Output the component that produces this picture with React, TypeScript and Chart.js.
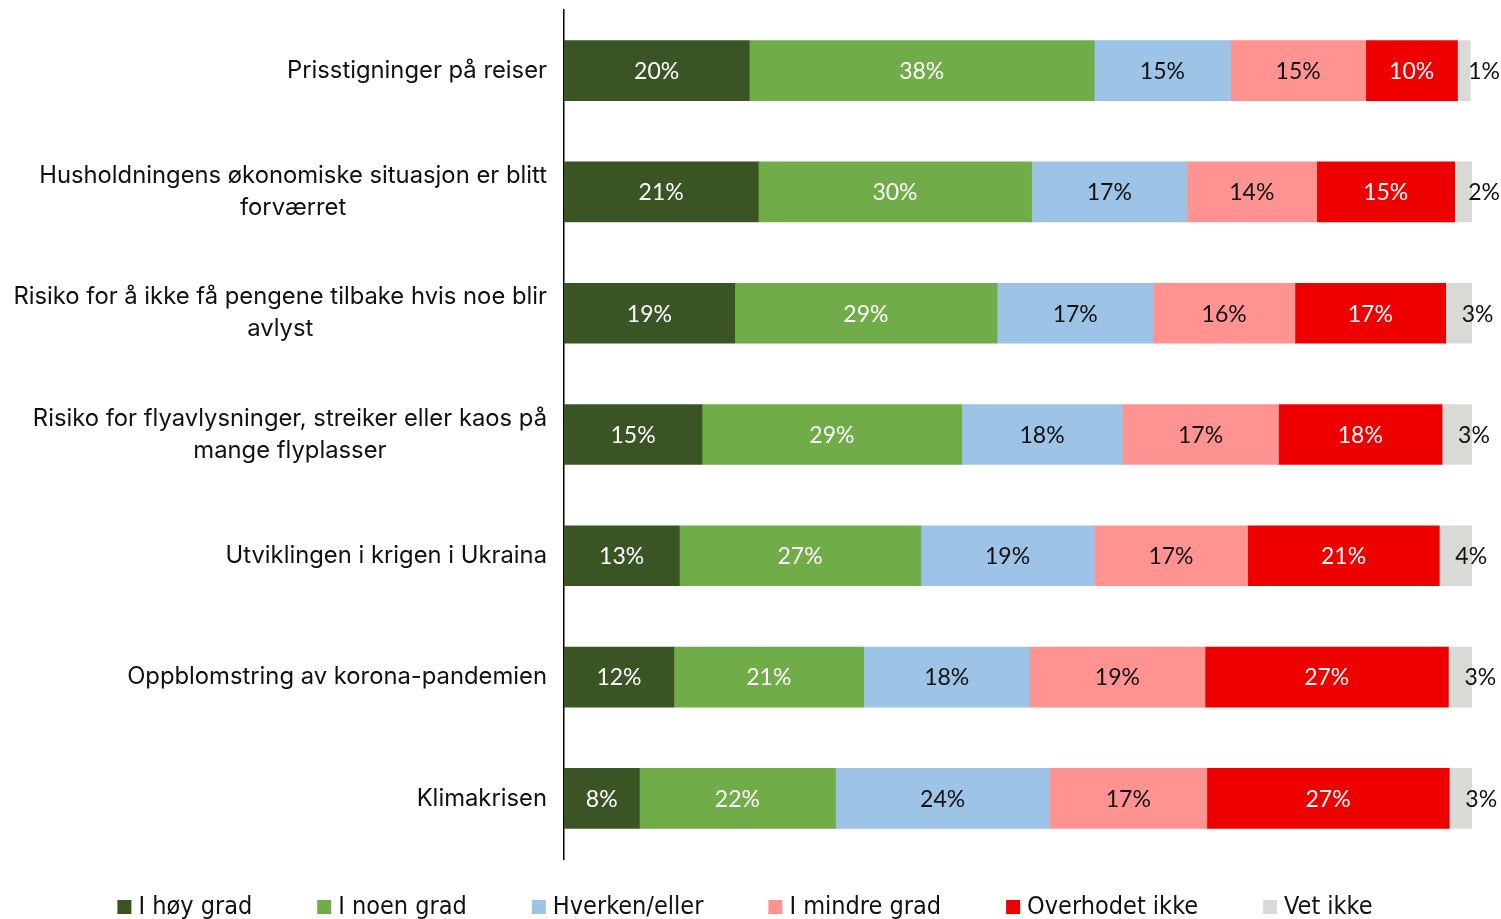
import React, { useEffect, useRef } from "react";
import { Chart, registerables } from "chart.js";

Chart.register(...registerables);

const categories: string[][] = [
  ["Prisstigninger på reiser"],
  ["Husholdningens økonomiske situasjon er blitt", "forværret"],
  ["Risiko for å ikke få pengene tilbake hvis noe blir", "avlyst"],
  ["Risiko for flyavlysninger, streiker eller kaos på", "mange flyplasser"],
  ["Utviklingen i krigen i Ukraina"],
  ["Oppblomstring av korona-pandemien"],
  ["Klimakrisen"],
];

const seriesNames = ["I høy grad", "I noen grad", "Hverken/eller", "I mindre grad", "Overhodet ikke", "Vet ikke"];
const seriesColors = ["#3b5424", "#70ac48", "#9dc3e6", "#ff9391", "#ee0000", "#d9d9d6"];
const labelColors = ["#ffffff", "#ffffff", "#111111", "#111111", "#ffffff", "#111111"];

const hoyGrad = [20.4, 21.4, 18.8, 15.2, 12.7, 12.1, 8.3];
const noenGrad = [38.0, 30.1, 28.9, 28.6, 26.6, 20.9, 21.6];
const hverkenEller = [15.0, 17.1, 17.2, 17.7, 19.1, 18.3, 23.6];
const mindreGrad = [14.9, 14.3, 15.6, 17.2, 16.9, 19.3, 17.3];
const overhodetIkke = [10.1, 15.2, 16.6, 18.0, 21.1, 26.8, 26.7];
const vetIkke = [1.4, 2.0, 3.1, 3.4, 3.7, 2.6, 2.6];

const seriesValues = [hoyGrad, noenGrad, hverkenEller, mindreGrad, overhodetIkke, vetIkke];

const Y_FONT = "23.8px Inter, 'Noto Sans', sans-serif";
const VALUE_FONT = "23px Lato, 'Noto Sans', sans-serif";
const LEGEND_FONT = "25px 'DejaVu Sans Condensed', 'DejaVu Sans', sans-serif";

const customPlugin = {
  id: "customText",
  afterDatasetsDraw(chart: any) {
    const ctx = chart.ctx;
    ctx.save();
    ctx.font = VALUE_FONT;
    ctx.textBaseline = "middle";
    chart.data.datasets.forEach((ds: any, di: number) => {
      const meta = chart.getDatasetMeta(di);
      meta.data.forEach((bar: any, i: number) => {
        const v = Math.round(ds.data[i]);
        const txt = v + "%";
        ctx.fillStyle = labelColors[di];
        if (di === seriesValues.length - 1) {
          ctx.textAlign = "left";
          const start = Math.min(bar.base, bar.x);
          const w = ctx.measureText(txt).width;
          const xPos = Math.min(start + 16, chart.width - 1 - w);
          ctx.fillText(txt, xPos, bar.y + 1);
        } else {
          ctx.textAlign = "center";
          ctx.fillText(txt, (bar.x + bar.base) / 2, bar.y + 1);
        }
      });
    });
    ctx.restore();
  },
  afterDraw(chart: any) {
    const ctx = chart.ctx;
    const yScale = chart.scales.y;
    ctx.save();
    // category labels
    ctx.font = Y_FONT;
    ctx.fillStyle = "#111111";
    ctx.textBaseline = "middle";
    ctx.textAlign = "center";
    const rightEdge = chart.chartArea.left - 17;
    const lineH = 32;
    categories.forEach((lines, i) => {
      const cy = yScale.getPixelForValue(i);
      const maxW = Math.max(...lines.map((l) => ctx.measureText(l).width));
      const cx = rightEdge - maxW / 2;
      const y0 = cy - ((lines.length - 1) * lineH) / 2;
      lines.forEach((l, j) => ctx.fillText(l, cx, y0 + j * lineH));
    });
    // legend
    ctx.font = LEGEND_FONT;
    const box = 14;
    const gapText = 7;
    const spacing = 65;
    const widths = seriesNames.map((n) => box + gapText + ctx.measureText(n).width);
    const total = widths.reduce((a, b) => a + b, 0) + spacing * (seriesNames.length - 1);
    let x = 745 - total / 2;
    const ly = 907;
    ctx.textAlign = "left";
    ctx.textBaseline = "middle";
    seriesNames.forEach((n, i) => {
      ctx.fillStyle = seriesColors[i];
      ctx.fillRect(x, ly - 7, box, box);
      ctx.fillStyle = "#111111";
      ctx.fillText(n, x + box + gapText, ly);
      x += widths[i] + spacing;
    });
    ctx.restore();
  },
};

export default function App() {
  const canvasRef = useRef<HTMLCanvasElement | null>(null);

  useEffect(() => {
    if (!canvasRef.current) return;
    const chart = new Chart(canvasRef.current, {
      type: "bar",
      data: {
        labels: categories.map((c) => c.join(" ")),
        datasets: seriesNames.map((name, i) => ({
          label: name,
          data: seriesValues[i],
          backgroundColor: seriesColors[i],
          borderWidth: 0,
          barThickness: 60,
        })),
      },
      options: {
        indexAxis: "y",
        animation: false,
        responsive: false,
        maintainAspectRatio: false,
        layout: { padding: { left: 0, right: 29, top: 10, bottom: 60 } },
        plugins: {
          legend: { display: false },
          tooltip: { enabled: false },
          title: { display: false },
        },
        scales: {
          x: {
            stacked: true,
            min: 0,
            max: 100,
            display: false,
          },
          y: {
            stacked: true,
            grid: { display: false },
            border: { display: true, color: "#000000", width: 1.5 },
            ticks: { display: false },
            afterFit: (scale: any) => {
              scale.width = 564;
            },
          },
        },
      } as any,
      plugins: [customPlugin],
    });
    return () => chart.destroy();
  }, []);

  return (
    <div style={{ position: "fixed", left: 0, top: 0, width: 1501, height: 919, background: "#fff" }}>
      <canvas ref={canvasRef} width={1501} height={919} style={{ display: "block" }} />
    </div>
  );
}
